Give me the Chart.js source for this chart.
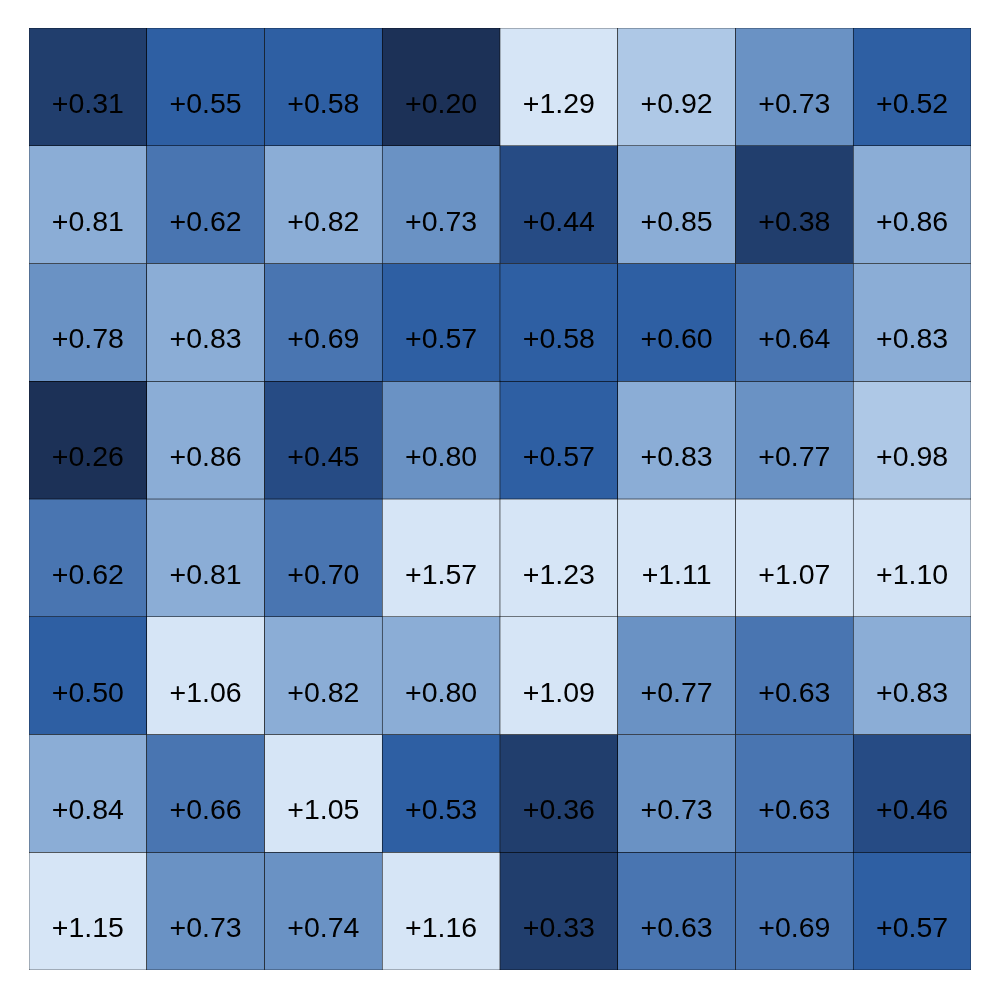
<!DOCTYPE html>
<html>
<head>
<meta charset="utf-8">
<script src="https://cdn.jsdelivr.net/npm/chart.js@4"></script>
<style>
html,body{margin:0;padding:0;background:#fff;}
#wrap{width:1000px;height:1000px;}
</style>
</head>
<body>
<div id="wrap"><canvas id="c" width="1000" height="1000"></canvas></div>
<script>
const columns = ['C1','C2','C3','C4','C5','C6','C7','C8'];
const row1 = [0.31, 0.55, 0.58, 0.20, 1.29, 0.92, 0.73, 0.52];
const row2 = [0.81, 0.62, 0.82, 0.73, 0.44, 0.85, 0.38, 0.86];
const row3 = [0.78, 0.83, 0.69, 0.57, 0.58, 0.60, 0.64, 0.83];
const row4 = [0.26, 0.86, 0.45, 0.798, 0.57, 0.83, 0.77, 0.98];
const row5 = [0.62, 0.81, 0.70, 1.57, 1.23, 1.11, 1.07, 1.10];
const row6 = [0.50, 1.06, 0.82, 0.802, 1.09, 0.77, 0.63, 0.83];
const row7 = [0.84, 0.66, 1.05, 0.53, 0.36, 0.73, 0.63, 0.46];
const row8 = [1.15, 0.73, 0.74, 1.16, 0.33, 0.63, 0.69, 0.57];
const rows = [row1, row2, row3, row4, row5, row6, row7, row8];

const binEdges = [0.28, 0.40, 0.48, 0.61, 0.715, 0.80, 0.90, 1.0];
const binColors = ['#1c3157','#213e6d','#264b84','#2e5fa3','#4975b1','#6a92c4','#8badd6','#aec8e6','#d6e5f6'];
function colorFor(v){
  let i = 0;
  while (i < binEdges.length && v >= binEdges[i]) i++;
  return binColors[i];
}

const datasets = rows.map((vals, r) => ({
  label: 'row' + (r+1),
  data: vals.map(() => [r, r + 1]),
  values: vals,
  backgroundColor: vals.map(colorFor),
  borderColor: '#000',
  borderWidth: 0.6,
  borderSkipped: false,
  grouped: false,
  barPercentage: 1,
  categoryPercentage: 1
}));

const labelPlugin = {
  id: 'cellLabels',
  afterDatasetsDraw(chart){
    const ctx = chart.ctx;
    ctx.save();
    ctx.font = '28.5px "Liberation Sans", Arial, sans-serif';
    ctx.fillStyle = '#000';
    ctx.textAlign = 'center';
    ctx.textBaseline = 'alphabetic';
    chart.data.datasets.forEach((ds, di) => {
      const meta = chart.getDatasetMeta(di);
      meta.data.forEach((bar, i) => {
        const v = ds.values[i];
        const cy = (bar.y + bar.base) / 2;
        ctx.fillText('+' + v.toFixed(2), bar.x, cy + 26);
      });
    });
    ctx.restore();
  }
};

new Chart(document.getElementById('c'), {
  type: 'bar',
  data: { labels: columns, datasets },
  options: {
    responsive: false,
    animation: false,
    layout: { padding: { left: 29, right: 29, top: 28, bottom: 30 } },
    plugins: { legend: { display: false }, tooltip: { enabled: false } },
    scales: {
      x: { display: false, offset: true },
      y: { display: false, min: 0, max: 8, reverse: true }
    }
  },
  plugins: [labelPlugin]
});
</script>
</body>
</html>
